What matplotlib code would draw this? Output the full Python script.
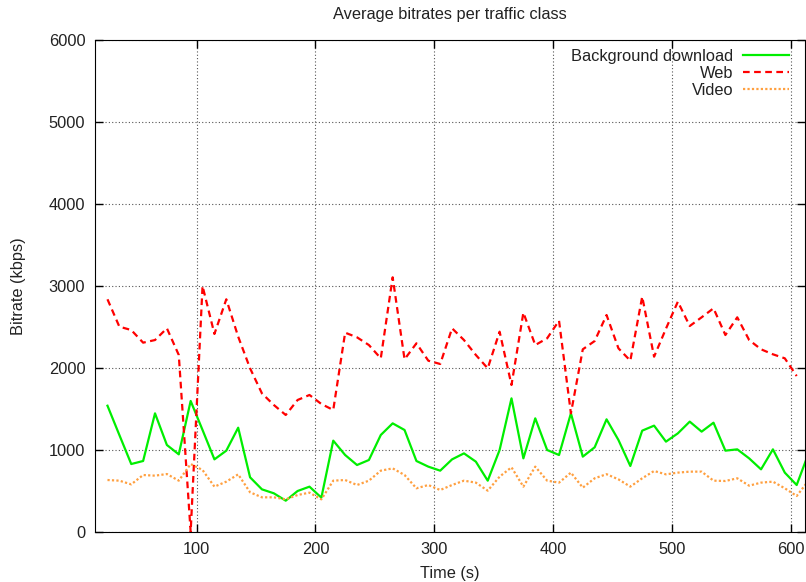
import numpy as np
import matplotlib.pyplot as plt

plt.rcParams['font.family'] = ['Liberation Sans', 'DejaVu Sans']

# Datos (kbps, una muestra cada 10 s)
t_bg = np.arange(25, 616, 10)
bg = [1540, 1183, 829, 866, 1447, 1061, 947, 1598, 1244, 886,
      992, 1272, 667, 520, 472, 382, 500, 553, 419, 1114,
      939, 817, 878, 1183, 1325, 1244, 866, 797, 748, 886,
      959, 858, 626, 1000, 1630, 898, 1386, 1000, 939, 1447,
      919, 1033, 1374, 1122, 805, 1236, 1297, 1102, 1203, 1346,
      1224, 1333, 992, 1008, 898, 764, 1008, 724, 573, 960]

t_web = np.arange(25, 606, 10)
web = [2838, 2504, 2463, 2309, 2341, 2484, 2159, 0, 3000, 2415,
       2838, 2382, 1996, 1690, 1549, 1427, 1610, 1671, 1561, 1488,
       2431, 2374, 2280, 2118, 3106, 2106, 2301, 2089, 2049, 2484,
       2341, 2159, 1996, 2443, 1793, 2675, 2280, 2362, 2577, 1447,
       2228, 2329, 2646, 2240, 2089, 2870, 2138, 2480, 2809, 2512,
       2618, 2728, 2402, 2618, 2341, 2228, 2167, 2118, 1902]

t_vid = np.arange(25, 616, 10)
vid = [634, 626, 581, 695, 687, 707, 626, 829, 756, 553,
       614, 703, 484, 423, 423, 398, 451, 480, 398, 626,
       634, 573, 626, 748, 776, 695, 533, 573, 512, 573,
       626, 602, 504, 675, 789, 553, 797, 626, 602, 724,
       541, 655, 705, 642, 553, 655, 744, 703, 724, 736,
       736, 626, 622, 655, 565, 602, 614, 533, 439, 627]

fig = plt.figure(figsize=(8.06, 5.82), dpi=100)
ax = fig.add_axes([95/806, 50/582, 710/806, 492/582])

ax.plot(t_bg, bg, color='#00ee00', lw=1.6, label='Background download')
ax.plot(t_web, web, color='#ff0000', lw=1.6, ls=(0, (3, 2)), label='Web')
ax.plot(t_vid, vid, color='#ffa040', lw=1.6, ls=(0, (1, 1)), label='Video')

ax.set_xlim(14.5, 612)
ax.set_ylim(0, 6000)
ax.set_xticks(range(100, 601, 100))
ax.set_yticks(range(0, 6001, 1000))
ax.tick_params(direction='in', top=True, right=True, length=6, width=1,
               labelsize=11.8, pad=7, labelcolor='#222222')
ax.grid(True, color='#555555', ls=(0, (1, 2)), lw=0.8)

ax.set_title('Average bitrates per traffic class', fontsize=11.8, pad=15,
             color='#222222')
ax.set_xlabel('Time (s)', fontsize=11.8, labelpad=7, color='#222222')
ax.set_ylabel('Bitrate (kbps)', fontsize=11.8, labelpad=16, color='#222222')

leg = ax.legend(loc='upper right', bbox_to_anchor=(0.9915, 1.002),
                frameon=False, markerfirst=False,
                fontsize=11.8, handlelength=2.8, handletextpad=0.6,
                labelspacing=0.12, borderaxespad=0.2)
for txt in leg.get_texts():
    txt.set_color('#222222')
for col in leg._legend_handle_box.get_children():
    col.align = 'right'

plt.savefig('out.png', dpi=100)
